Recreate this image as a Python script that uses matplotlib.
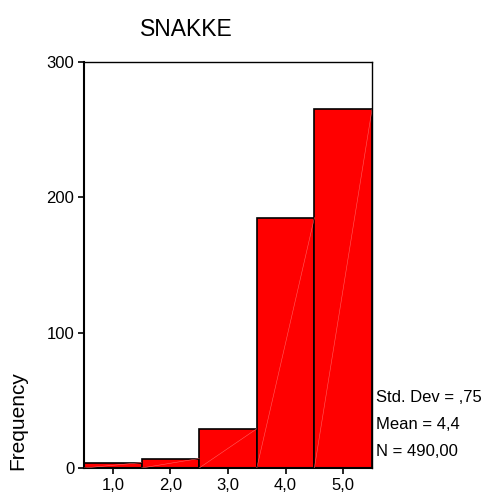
import matplotlib
matplotlib.use('Agg')
import matplotlib.pyplot as plt

matplotlib.rcParams['font.family'] = ['Liberation Sans', 'DejaVu Sans']

# histogram data for SNAKKE
categories = [1, 2, 3, 4, 5]
counts = [4, 7, 29, 185, 265]
tick_labels = ['1,0', '2,0', '3,0', '4,0', '5,0']
stats_lines = ['Std. Dev = ,75', 'Mean = 4,4', 'N = 490,00']

fig = plt.figure(figsize=(4.86, 4.99), dpi=100)
ax = fig.add_axes([84 / 486, 1 - 468 / 499, 288 / 486, 406 / 499])

ax.bar(categories, counts, width=1.0, color='#ff0000', edgecolor='black', linewidth=1.2, zorder=2)
# faint diagonal seams seen inside the SPSS bars
for x, c in zip(categories, counts):
    ax.plot([x - 0.5, x + 0.5], [0, c], color='#ff6060', linewidth=0.4, zorder=3)

ax.set_xlim(0.5, 5.5)
ax.set_ylim(0, 300)
ax.set_xticks(categories)
ax.set_xticklabels(tick_labels)
ax.set_yticks([0, 100, 200, 300])
ax.tick_params(axis='both', labelsize=12, length=4, width=1.2, direction='out', pad=3)

for side in ['left', 'bottom']:
    ax.spines[side].set_linewidth(1.5)
for side in ['top', 'right']:
    ax.spines[side].set_linewidth(1.0)

fig.text(18 / 486, 1 - 470 / 499, 'Frequency', rotation=90, fontsize=15,
         ha='center', va='bottom')
fig.text(140 / 486, 1 - 30 / 499, 'SNAKKE', fontsize=16.5, ha='left', va='center')

for i, line in enumerate(stats_lines):
    fig.text(376 / 486, 1 - (398 + 26.5 * i) / 499, line, fontsize=12,
             ha='left', va='center')

fig.savefig('out.png', dpi=100)
